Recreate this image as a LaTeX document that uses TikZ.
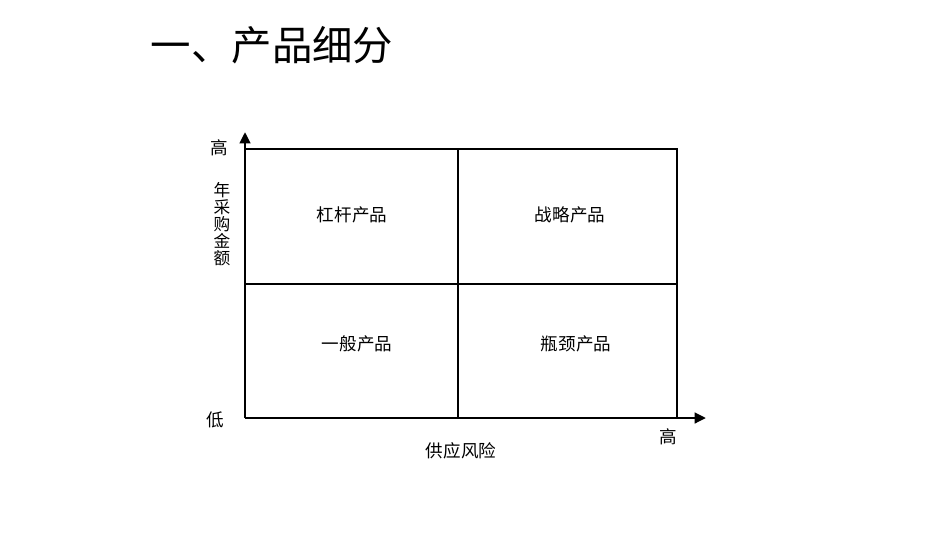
\documentclass[tikz,border=0pt]{standalone}
\usepackage{fontspec}
\usepackage{tikz}
\usetikzlibrary{arrows.meta}
\setmainfont{Noto Sans CJK SC}
\newfontfamily\cjk{Noto Sans CJK SC}

\begin{document}
\begin{tikzpicture}[x=0.02cm, y=-0.02cm, font=\cjk]
		\useasboundingbox (0,0) rectangle (950,535);
		\node (title) at (272,45) [font=\cjk\fontsize{23}{26}\selectfont] {一、产品细分};

		% corners of the matrix
		\coordinate (O) at (245,418);
		\coordinate (TL) at (245,149);
		\coordinate (TR) at (677,149);
		\coordinate (BR) at (677,418);
		\coordinate (TM) at (458,149);
		\coordinate (BM) at (458,418);
		\coordinate (ML) at (245,284);
		\coordinate (MR) at (677,284);
		\coordinate (ytop) at (245,132);
		\coordinate (xend) at (706,418);

		\begin{scope}[line width=1.1pt]
			\draw (TL) -- (TR) -- (BR);
			\draw (TM) -- (BM);
			\draw (ML) -- (MR);
		\end{scope}
		\begin{scope}[line width=1.6pt, -{Triangle[length=6.5pt,width=6pt]}]
			\draw (O) -- (ytop);
			\draw (O) -- (xend);
		\end{scope}

		\begin{scope}[every node/.style={font=\cjk\fontsize{10}{12}\selectfont}]
			\node (lever) at (352,215) {杠杆产品};
			\node (strategic) at (570,215) {战略产品};
			\node (general) at (357,344) {一般产品};
			\node (bottleneck) at (576,344) {瓶颈产品};
			\node (yhigh) at (219,148) {高};
			\node (ylow) at (215,420) {低};
			\node (xhigh) at (668,437) {高};
			\node (xlabel) at (461,451) {供应风险};
			\node (ylabel) at (222,224) [align=center, font=\cjk\fontsize{9.5}{9.7}\selectfont] {年\\采\\购\\金\\额};
		\end{scope}
	\end{tikzpicture}
\end{document}
